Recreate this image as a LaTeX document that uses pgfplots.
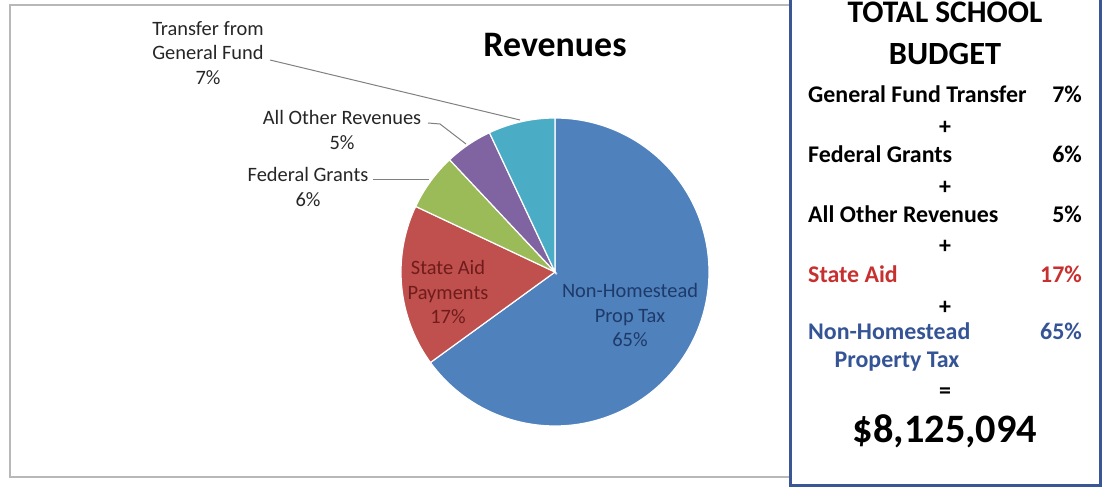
\documentclass[border=0pt]{standalone}
\usepackage{pgfplots}
\usepackage{pgfplotstable}
\pgfplotsset{compat=1.18}
\usepackage{fontspec}
\setmainfont{Carlito}
\definecolor{pieblue}{HTML}{4F81BD}
\definecolor{piered}{HTML}{C0504D}
\definecolor{piegreen}{HTML}{9BBB59}
\definecolor{piepurple}{HTML}{8064A2}
\definecolor{piecyan}{HTML}{4BACC6}
\definecolor{boxblue}{RGB}{58,86,150}
\definecolor{txtred}{RGB}{200,48,48}
\definecolor{txtblue}{RGB}{52,84,150}
\definecolor{inblue}{RGB}{30,58,105}
\definecolor{inred}{RGB}{110,28,28}
\pgfplotstableread{
label pct
NonHomestead 65
StateAid 17
FederalGrants 6
AllOther 5
Transfer 7
}\revtable
\begin{document}
\begin{tikzpicture}
\pgfplotstablegetelem{0}{pct}\of\revtable \let\pA\pgfplotsretval
\pgfplotstablegetelem{1}{pct}\of\revtable \let\pB\pgfplotsretval
\pgfplotstablegetelem{2}{pct}\of\revtable \let\pC\pgfplotsretval
\pgfplotstablegetelem{3}{pct}\of\revtable \let\pD\pgfplotsretval
\pgfplotstablegetelem{4}{pct}\of\revtable \let\pE\pgfplotsretval
\pgfmathsetmacro\aO{90}
\pgfmathsetmacro\aA{\aO-3.6*\pA}
\pgfmathsetmacro\aB{\aA-3.6*\pB}
\pgfmathsetmacro\aC{\aB-3.6*\pC}
\pgfmathsetmacro\aD{\aC-3.6*\pD}
\pgfmathsetmacro\aE{\aD-3.6*\pE}
\begin{axis}[width=1112bp, height=488bp, scale only axis,
  xmin=0, xmax=1112, ymin=0, ymax=488, axis lines=none, ticks=none]
% left chart frame
\draw[draw=black!28, line width=2bp] (axis cs:10,11) rectangle (axis cs:790,483);
% pie slices
\addplot[fill=pieblue, draw=white, line width=1.2bp, domain=\aA:\aO, samples=120]
  ({555+154*cos(x)},{216+154*sin(x)}) -- (axis cs:555,216) -- cycle;
\addplot[fill=piered, draw=white, line width=1.2bp, domain=\aB:\aA, samples=40]
  ({555+154*cos(x)},{216+154*sin(x)}) -- (axis cs:555,216) -- cycle;
\addplot[fill=piegreen, draw=white, line width=1.2bp, domain=\aC:\aB, samples=20]
  ({555+154*cos(x)},{216+154*sin(x)}) -- (axis cs:555,216) -- cycle;
\addplot[fill=piepurple, draw=white, line width=1.2bp, domain=\aD:\aC, samples=20]
  ({555+154*cos(x)},{216+154*sin(x)}) -- (axis cs:555,216) -- cycle;
\addplot[fill=piecyan, draw=white, line width=1.2bp, domain=\aE:\aD, samples=20]
  ({555+154*cos(x)},{216+154*sin(x)}) -- (axis cs:555,216) -- cycle;
% leader lines
\draw[black!50, line width=1bp] (axis cs:270,428) -- (axis cs:520,368);
\draw[black!50, line width=1bp] (axis cs:428,365) -- (axis cs:440,364) -- (axis cs:466,344);
\draw[black!50, line width=1bp] (axis cs:373,308) -- (axis cs:429,308);
% title
\node[font=\fontsize{36}{40}\selectfont\bfseries] at (axis cs:555,443) {Revenues};
% data labels
\begin{scope}[every node/.style={font=\fontsize{20.5}{25}\selectfont, align=center}]
\node[text=inblue] at (axis cs:630,173) {Non-Homestead\\Prop Tax\\\pA\%};
\node[text=inred] at (axis cs:448,196) {State Aid\\Payments\\\pB\%};
\node[text=black!85] at (axis cs:208,435) {Transfer from\\General Fund\\\pE\%};
\node[text=black!85] at (axis cs:342,358) {All Other Revenues\\\pD\%};
\node[text=black!85] at (axis cs:308,301) {Federal Grants\\\pC\%};
\end{scope}
% right box
\draw[draw=boxblue, fill=white, line width=3bp] (axis cs:790,2) rectangle (axis cs:1100,500);
\node[anchor=base, inner sep=0pt, font=\fontsize{31.5}{36}\selectfont\bfseries] at (axis cs:945,465) {TOTAL SCHOOL};
\node[anchor=base, font=\fontsize{32.5}{36}\selectfont\bfseries] at (axis cs:945,423) {BUDGET};
\begin{scope}[every node/.style={font=\fontsize{24}{28}\selectfont\bfseries, inner xsep=0pt}]
\node[anchor=base west] at (axis cs:808,385) {General Fund Transfer};
\node[anchor=base east] at (axis cs:1082,385) {\pE\%};
\node at (axis cs:945,360) {+};
\node[anchor=base west] at (axis cs:808,325) {Federal Grants};
\node[anchor=base east] at (axis cs:1082,325) {\pC\%};
\node at (axis cs:945,300) {+};
\node[anchor=base west] at (axis cs:808,265) {All Other Revenues};
\node[anchor=base east] at (axis cs:1082,265) {\pD\%};
\node at (axis cs:945,241) {+};
\node[anchor=base west, text=txtred] at (axis cs:808,205) {State Aid};
\node[anchor=base east, text=txtred] at (axis cs:1082,205) {\pB\%};
\node at (axis cs:945,180) {+};
\node[anchor=base west, text=txtblue] at (axis cs:808,148) {Non-Homestead};
\node[anchor=base east, text=txtblue] at (axis cs:1082,148) {\pA\%};
\node[anchor=base, text=txtblue] at (axis cs:897,120) {Property Tax};
\node at (axis cs:945,95) {=};
\end{scope}
\node[anchor=base, font=\fontsize{40.5}{44}\selectfont\bfseries] at (axis cs:945,45) {\$8,125,094};
\end{axis}
\pgfresetboundingbox
\path[use as bounding box] (current axis.south west) rectangle (current axis.north east);
\end{tikzpicture}
\end{document}
